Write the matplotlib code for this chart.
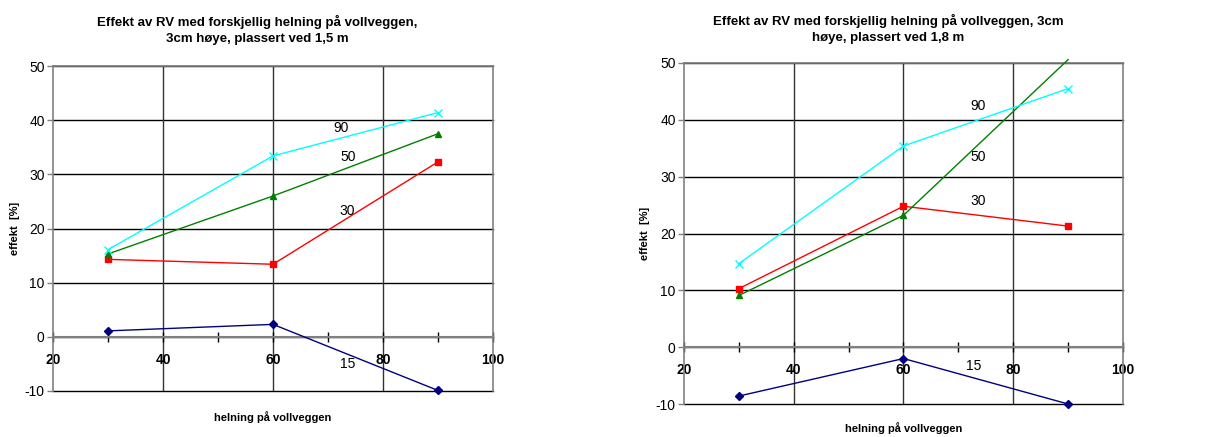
import matplotlib.pyplot as plt
from matplotlib.ticker import MultipleLocator

plt.rcParams['font.family'] = ['Liberation Sans', 'DejaVu Sans']
plt.rcParams['axes.unicode_minus'] = False

x_vals = [30, 60, 90]

# left chart: plassert ved 1,5 m
left_15 = [1.1, 2.3, -9.9]
left_30 = [14.3, 13.4, 32.3]
left_50 = [15.3, 26.0, 37.5]
left_90 = [16.1, 33.4, 41.4]

# right chart: plassert ved 1,8 m
right_15 = [-8.6, -2.0, -10.0]
right_30 = [10.3, 24.8, 21.3]
right_50 = [9.1, 23.2, 50.6]
right_90 = [14.7, 35.4, 45.5]

series_names = ['15', '30', '50', '90']
colors = ['#000080', '#ff0000', '#008000', '#00ffff']
markers = ['D', 's', '^', 'x']
msizes = [4, 5, 5, 6]

left_label_pos = [(73.5, -5.1), (73.5, 23.2), (73.6, 33.2), (72.4, 38.5)]
right_label_pos = [(72.8, -3.3), (73.6, 25.7), (73.6, 33.5), (73.6, 42.5)]

titles = ['Effekt av RV med forskjellig helning på vollveggen,\n3cm høye, plassert ved 1,5 m',
          'Effekt av RV med forskjellig helning på vollveggen, 3cm\nhøye, plassert ved 1,8 m']

fig = plt.figure(figsize=(12.21, 4.37), dpi=100)

def draw_chart(rect, data, label_pos, title, title_xy, ylab_x, xlab_y):
    ax = fig.add_axes(rect)
    ax.set_xlim(20, 100)
    ax.set_ylim(-10, 50)
    for y in range(-10, 51, 10):
        ax.axhline(y, color='black', lw=1, zorder=1, clip_on=False)
    for x in [40, 60, 80]:
        ax.axvline(x, color='#333333', lw=1, zorder=1)
    for name in ['top', 'right', 'left']:
        ax.spines[name].set_color('#808080')
        ax.spines[name].set_linewidth(1.2)
    ax.spines['bottom'].set_position(('data', 0))
    ax.spines['bottom'].set_color('#808080')
    ax.spines['bottom'].set_linewidth(1.5)
    ax.spines['bottom'].set_zorder(2)

    ax.xaxis.set_major_locator(MultipleLocator(20))
    ax.xaxis.set_minor_locator(MultipleLocator(10))
    ax.yaxis.set_major_locator(MultipleLocator(10))
    ax.tick_params(axis='x', which='both', direction='inout', length=7, width=1, color='black')
    ax.tick_params(axis='x', which='major', pad=8, labelsize=10)
    ax.tick_params(axis='y', direction='out', length=4, width=1, color='#808080',
                   labelsize=10, pad=2)
    for t in ax.get_xticklabels():
        t.set_fontweight('bold')

    for i, vals in enumerate(data):
        if max(vals) > 50:
            ax.plot(x_vals, vals, color=colors[i], lw=1, marker=markers[i], ms=msizes[i],
                    markevery=[0, 1], clip_on=False, zorder=3)
        else:
            ax.plot(x_vals, vals, color=colors[i], lw=1, marker=markers[i], ms=msizes[i],
                    clip_on=False, zorder=3)
        ax.text(label_pos[i][0], label_pos[i][1], series_names[i], fontsize=10,
                ha='center', va='center', zorder=4)

    fig.text(title_xy[0], title_xy[1], title, ha='center', va='center',
             fontsize=9.5, fontweight='bold', linespacing=1.5)
    fig.text(ylab_x, rect[1] + rect[3] / 2, 'effekt  [%]', rotation=90, ha='center',
             va='center', fontsize=8, fontweight='bold')
    fig.text(rect[0] + rect[2] / 2, xlab_y, 'helning på vollveggen', ha='center',
             va='center', fontsize=8, fontweight='bold')
    return ax

draw_chart([53 / 1221, 1 - 391 / 437, 440 / 1221, 325 / 437],
           [left_15, left_30, left_50, left_90], left_label_pos, titles[0],
           (257 / 1221, 1 - 30 / 437), 15 / 1221, 1 - 417 / 437)
draw_chart([684 / 1221, 1 - 404 / 437, 439 / 1221, 341 / 437],
           [right_15, right_30, right_50, right_90], right_label_pos, titles[1],
           (888 / 1221, 1 - 29 / 437), 645 / 1221, 1 - 428 / 437)

fig.savefig('out.png', dpi=100)
